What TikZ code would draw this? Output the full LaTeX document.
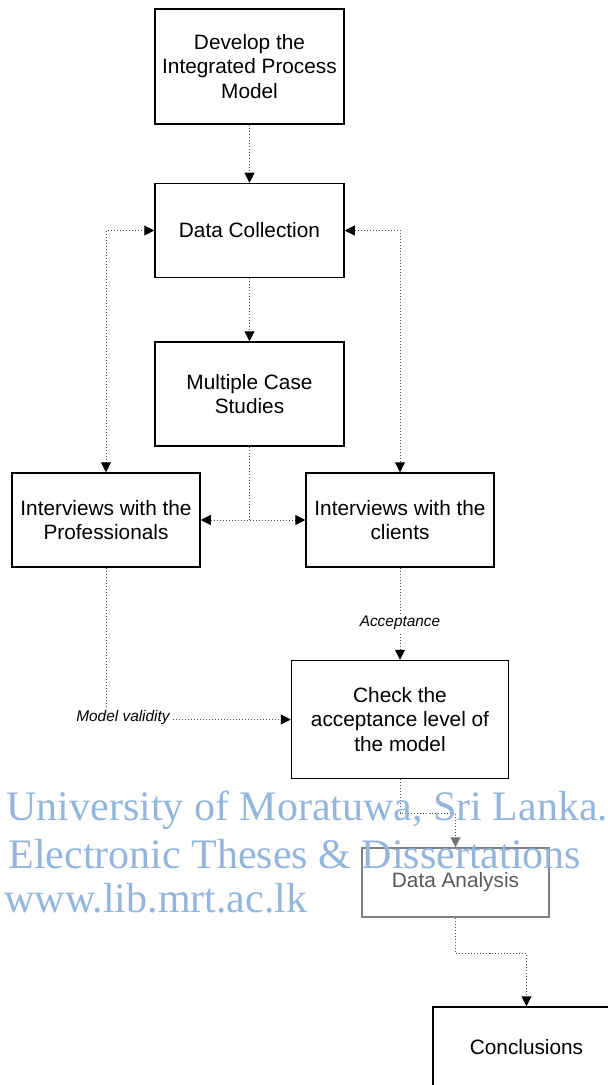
\documentclass[tikz,border=0pt]{standalone}
\usepackage{fontspec}
\setsansfont{Liberation Sans}
\newfontfamily\wmfont{Liberation Serif}
\usetikzlibrary{arrows.meta, positioning}
\definecolor{wmblue}{RGB}{148,182,220}

\begin{document}
\begin{tikzpicture}[
	x=0.5pt, y=-0.5pt,
	box/.style={rectangle, draw, line width=.75pt, minimum width=94.5pt, align=center, inner sep=2pt, font=\sffamily\fontsize{10.4}{12.2}\selectfont},
	greybox/.style={box, draw=black!50, text=black!65},
	conn/.style={densely dotted, line width=.5pt, draw=black!70},
	arr/.style={-{Triangle[length=5pt, width=5pt, black]}},
	garr/.style={-{Triangle[length=5pt, width=5pt, black!55]}},
	darr/.style={{Triangle[length=5pt, width=5pt, black]}-{Triangle[length=5pt, width=5pt, black]}},
	lbl/.style={fill=white, inner sep=1pt, font=\sffamily\itshape\fontsize{7.7}{9}\selectfont},
	wm/.style={anchor=base west, inner sep=0pt, text=wmblue, font=\wmfont\fontsize{21}{23}\selectfont}
	]
	\useasboundingbox (0,0) rectangle (608,1085);
	\clip (0,0) rectangle (608,1085);

	\node[box, minimum height=57.5pt] (dev) at (249.5,66.5) {Develop the\\ Integrated Process\\ Model};
	\node[box, minimum height=47pt, below=29pt of dev] (dc) {Data Collection};
	\node[box, minimum height=52pt, below=31.5pt of dc] (mcs) {Multiple Case\\ Studies};
	\node[box, minimum width=94pt, minimum height=47pt] (prof) at (106,520) {Interviews with the\\ Professionals};
	\node[box, minimum width=94pt, minimum height=47pt] (cli) at (400,520) {Interviews with the\\ clients};
	\node[box, minimum width=108.5pt, minimum height=59pt, below=46pt of cli] (chk) {Check the\\ acceptance level of\\ the model};
	\node[greybox, minimum width=93.5pt, minimum height=34.5pt] (da) at (455.5,882.5) {Data Analysis};
	\node[box, minimum width=93.5pt, minimum height=40pt] (concl) at (526.5,1047) {Conclusions};

	\coordinate (bend1) at (430,813);
	\coordinate (bend2) at (490,953);

	\draw[conn, arr] (dev) -- (dc);
	\draw[conn, arr] (dc) -- (mcs);
	\draw[conn, darr] (dc.west) -| (prof.north);
	\draw[conn, darr] (dc.east) -| (cli.north);
	\draw[conn] (mcs.south) -- (mcs.south |- prof.east);
	\draw[conn, darr] (prof.east) -- (cli.west);
	\draw[conn, arr] (cli) -- node[lbl, pos=.6] (acc) {Acceptance} (chk);
	\draw[conn, arr] (prof.south) |- (chk.west);
	\node[lbl] (mv) at (123,718) {Model validity};
	\draw[conn, garr] (chk.south) |- (bend1) -| (da.north);
	\draw[conn, arr] (da.south) |- (bend2) -| (concl.north);

	\node[wm] (wm1) at (6,820) {University of Moratuwa, Sri Lanka.};
	\node[wm] (wm2) at (8,868) {Electronic Theses \& Dissertations};
	\node[wm] (wm3) at (4,912) {www.lib.mrt.ac.lk};
\end{tikzpicture}
\end{document}
